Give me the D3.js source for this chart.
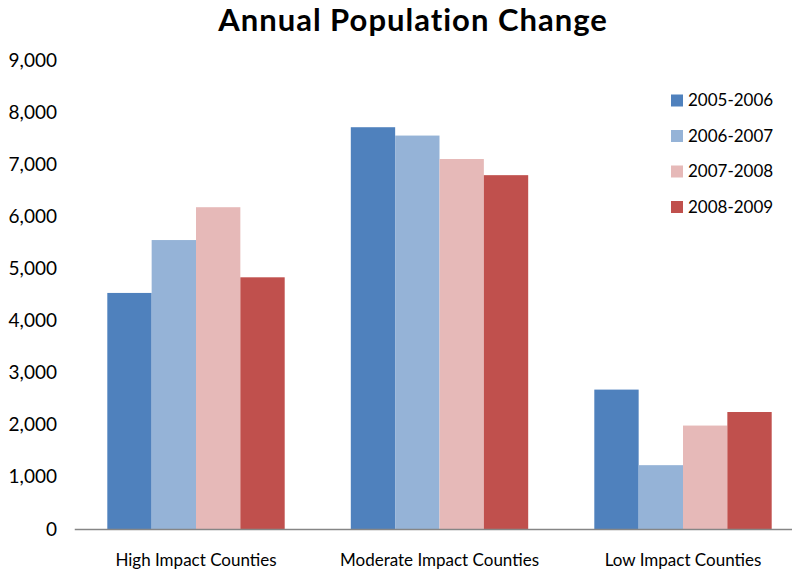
<!DOCTYPE html>
<html>
<head>
<meta charset="utf-8">
<script src="https://cdn.jsdelivr.net/npm/d3@7"></script>
<style>
  html, body { margin: 0; padding: 0; background: #fff; }
  svg { display: block; font-family: Lato, "Open Sans", sans-serif; }
</style>
</head>
<body>
<svg id="chart" width="792" height="573"></svg>
<script>
// Annual population change by county impact group
const categories = ["High Impact Counties", "Moderate Impact Counties", "Low Impact Counties"];
const seriesNames = ["2005-2006", "2006-2007", "2007-2008", "2008-2009"];
const seriesColors = ["#4F81BD", "#95B3D7", "#E6B9B8", "#C0504D"];
const values2005 = [4530, 7710, 2675];
const values2006 = [5545, 7550, 1225];
const values2007 = [6175, 7100, 1985];
const values2008 = [4830, 6790, 2245];
const yTicks = [0, 1000, 2000, 3000, 4000, 5000, 6000, 7000, 8000, 9000];

const seriesValues = [values2005, values2006, values2007, values2008];

const svg = d3.select("#chart");
const plot = { left: 74.25, right: 804.75, top: 60, bottom: 529 };

const x = d3.scaleBand()
  .domain(categories)
  .range([plot.left, plot.right])
  .paddingInner(0.2715)
  .paddingOuter(0.2715 / 2);

const xs = d3.scaleBand()
  .domain(seriesNames)
  .range([0, x.bandwidth()]);

const y = d3.scaleLinear()
  .domain([0, 9000])
  .range([plot.bottom, plot.top]);

// Title
svg.append("text")
  .attr("x", 413)
  .attr("y", 31)
  .attr("text-anchor", "middle")
  .attr("font-size", 31)
  .attr("font-weight", "bold")
  .attr("letter-spacing", 1)
  .attr("fill", "#000")
  .text("Annual Population Change");

// Y axis labels (no axis line)
const yAxis = d3.axisLeft(y)
  .tickValues(yTicks)
  .tickSize(0)
  .tickPadding(0)
  .tickFormat(d3.format(","));
const yg = svg.append("g")
  .attr("transform", "translate(57,0)")
  .call(yAxis);
yg.select(".domain").remove();
yg.selectAll("text")
  .attr("font-family", "Lato, sans-serif")
  .attr("font-size", 19)
  .attr("fill", "#000");

// Bars
const groups = svg.append("g")
  .selectAll("g")
  .data(categories)
  .join("g")
  .attr("transform", d => `translate(${x(d)},0)`);

groups.selectAll("rect")
  .data((d, i) => seriesNames.map((s, j) => ({ series: s, value: seriesValues[j][i], color: seriesColors[j] })))
  .join("rect")
  .attr("x", d => xs(d.series))
  .attr("y", d => y(d.value))
  .attr("width", xs.bandwidth())
  .attr("height", d => y(0) - y(d.value))
  .attr("fill", d => d.color);

// Category axis
const xAxis = d3.axisBottom(x).tickSize(0).tickPadding(0);
const xg = svg.append("g")
  .attr("transform", `translate(0,${plot.bottom})`)
  .call(xAxis);
xg.select(".domain")
  .attr("stroke", "#868686")
  .attr("stroke-width", 1.5);
xg.selectAll("text")
  .attr("font-family", "Lato, sans-serif")
  .attr("font-size", 17)
  .attr("fill", "#000")
  .attr("dy", 0)
  .attr("y", 37);

// Legend
const legend = svg.append("g")
  .selectAll("g")
  .data(seriesNames)
  .join("g")
  .attr("transform", (d, i) => `translate(671,${100.5 + i * 35.5})`);
legend.append("rect")
  .attr("x", 0)
  .attr("y", -6)
  .attr("width", 12)
  .attr("height", 12)
  .attr("fill", (d, i) => seriesColors[i]);
legend.append("text")
  .attr("x", 17)
  .attr("y", 0)
  .attr("dy", "0.35em")
  .attr("font-size", 17)
  .attr("fill", "#000")
  .text(d => d);
</script>
</body>
</html>
